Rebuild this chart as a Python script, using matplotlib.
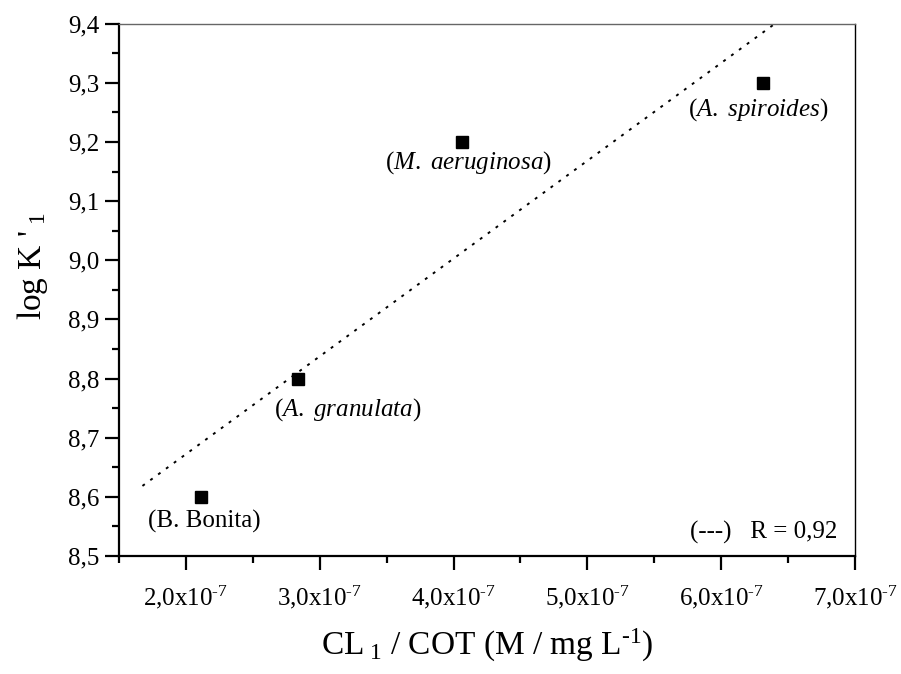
import numpy as np
import matplotlib
matplotlib.use("Agg")
import matplotlib.pyplot as plt
from matplotlib.ticker import MultipleLocator, FuncFormatter

plt.rcParams['font.family'] = ['Liberation Serif', 'DejaVu Serif']
plt.rcParams['mathtext.fontset'] = 'custom'
plt.rcParams['mathtext.rm'] = 'Liberation Serif'
plt.rcParams['mathtext.it'] = 'Liberation Serif:italic'

# CL1/COT (M / mg L-1) versus log K'1 for each strain
species = ["B. Bonita", "A. granulata", "M. aeruginosa", "A. spiroides"]
italic = [False, True, True, True]
cl_cot = [2.115e-7, 2.84e-7, 4.06e-7, 6.31e-7]
log_k = [8.6, 8.8, 9.2, 9.3]
# label centres in data coords
label_x = [2.14e-7, 3.21e-7, 4.11e-7, 6.28e-7]
label_y = [8.559, 8.747, 9.165, 9.255]
fit_range = [1.675e-7, 6.45e-7]

fig = plt.figure(figsize=(9.01, 6.74), dpi=100)
ax = fig.add_axes([0.1321, 0.1751, 0.8169, 0.7898])

slope, intercept = np.polyfit(cl_cot, log_k, 1)
r = np.corrcoef(cl_cot, log_k)[0, 1]
xf = np.array(fit_range)
ax.plot(xf, slope * xf + intercept, color='black', lw=1.4,
        linestyle=(0, (1.5, 3.5)))

ax.plot(cl_cot, log_k, 's', color='black', markersize=8.5)

for name, it, x, y in zip(species, italic, label_x, label_y):
    if it:
        txt = "($\\mathit{" + name.replace(" ", "\\ ") + "}$)"
    else:
        txt = "(" + name + ")"
    ax.text(x, y, txt, ha='center', va='center', fontsize=18)

ax.text(0.9755, 0.045, "(---)   R = %s" % ("%.2f" % r).replace(".", ","),
        transform=ax.transAxes, ha='right', va='center', fontsize=18)

ax.set_xlim(1.5e-7, 7.0e-7)
ax.set_ylim(8.5, 9.4)
ax.xaxis.set_major_locator(MultipleLocator(1e-7))
ax.xaxis.set_minor_locator(MultipleLocator(0.5e-7))
ax.yaxis.set_major_locator(MultipleLocator(0.1))
ax.yaxis.set_minor_locator(MultipleLocator(0.05))


def xfmt(v, pos):
    m = v / 1e-7
    if m < 1.9:
        return ""
    return ("%.1f" % m).replace(".", ",") + "x10$^{\\text{-7}}$"


ax.xaxis.set_major_formatter(FuncFormatter(xfmt))
ax.yaxis.set_major_formatter(FuncFormatter(lambda v, p: ("%.1f" % v).replace(".", ",")))

ax.tick_params(which='major', direction='out', length=10, width=1.6,
               labelsize=18, pad=4)
ax.tick_params(which='minor', direction='out', length=5, width=1.6)
ax.tick_params(axis='x', which='major', pad=10)

ax.spines['left'].set_linewidth(1.6)
ax.spines['bottom'].set_linewidth(1.6)
ax.spines['top'].set_linewidth(1.0)
ax.spines['top'].set_color('#666666')
ax.spines['right'].set_linewidth(1.0)

ax.set_xlabel("CL$_{\\ 1}$ / COT (M / mg L$^{\\text{-1}}$)", fontsize=24)
ax.xaxis.set_label_coords(0.5, -0.133)
ax.set_ylabel("log K '$_{\\ 1}$", fontsize=24)
ax.yaxis.set_label_coords(-0.094, 0.545)

fig.savefig("out.png", dpi=100)
